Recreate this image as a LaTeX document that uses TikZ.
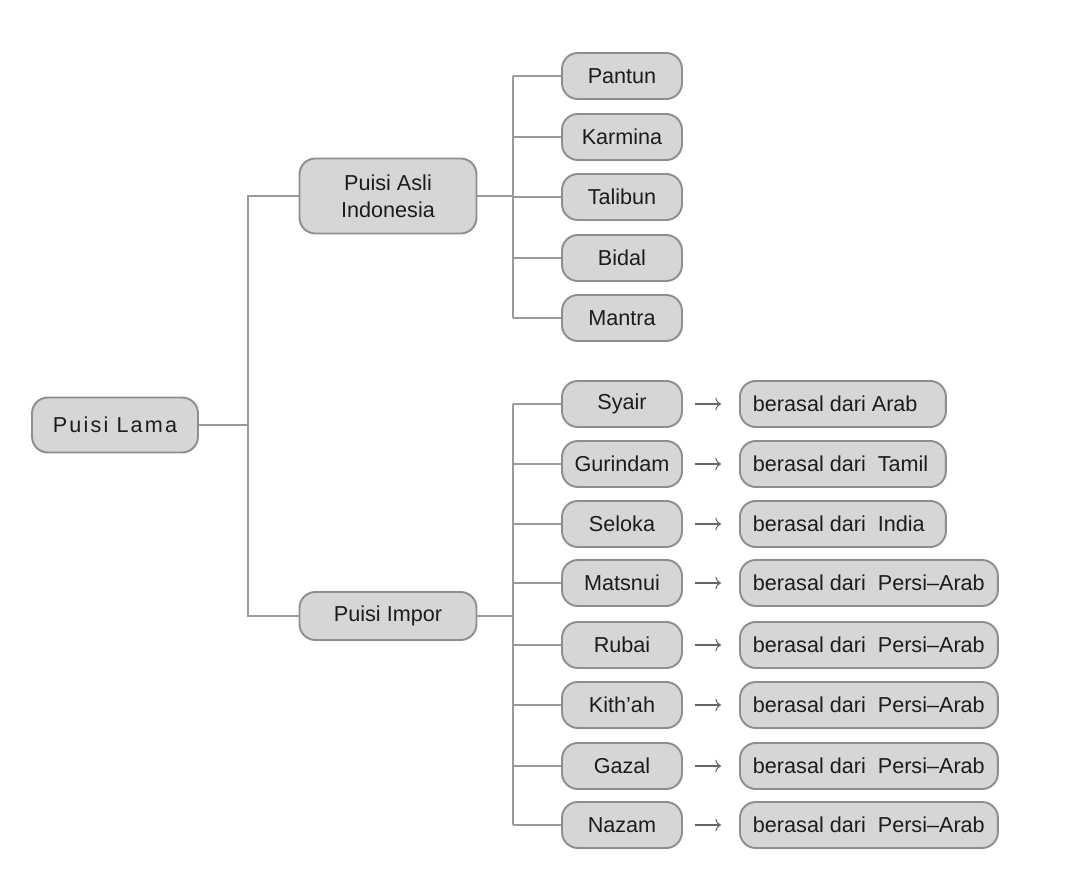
\documentclass[tikz,border=0pt]{standalone}
\usepackage{fontspec}
\setmainfont{Liberation Sans}
\usetikzlibrary{positioning,arrows.meta}
\definecolor{boxfill}{HTML}{D5D6D8}
\definecolor{boxline}{HTML}{8E8E8E}
\definecolor{linkgray}{HTML}{9A9A9A}
\definecolor{ink}{HTML}{1C1C1C}
\newcommand{\asal}[2]{\makebox[#1][l]{#2}}

\begin{document}
\begin{tikzpicture}[x=0.02cm,y=-0.02cm,
        box/.style={draw=boxline, fill=boxfill, line width=1.1pt, rounded corners=9pt,
            text=ink, font=\fontsize{12.3}{15.3}\selectfont, inner sep=0pt},
        kind/.style={box, minimum width=2.4cm, minimum height=0.92cm},
        origin/.style={box, anchor=west, minimum height=0.92cm, inner xsep=0.26cm},
        link/.style={draw=linkgray, line width=1.1pt},
        toarrow/.style={-{To[length=3.2pt,width=7pt]}, draw=black!60, line width=0.6pt,
            shorten <=0.24cm, shorten >=0.36cm}]
        \useasboundingbox (0,0) rectangle (1080,882);
        % levels
        \node[box, minimum width=3.32cm, minimum height=1.1cm] (lama) at (115,425) {\addfontfeature{LetterSpace=10}Puisi Lama};
        \node[box, minimum width=3.54cm, minimum height=1.5cm, align=center] (asli) at (388,196) {Puisi Asli\\Indonesia};
        \node[box, minimum width=3.54cm, minimum height=0.96cm] (impor) at (388,616) {Puisi Impor};
        \coordinate (trunk) at (248,0);
        \coordinate (bus) at (513,0);
        % puisi asli
        \node[kind] (pantun) at (622,76) {Pantun};
        \node[kind] (karmina) at (622,137) {Karmina};
        \node[kind] (talibun) at (622,197) {Talibun};
        \node[kind] (bidal) at (622,258) {Bidal};
        \node[kind] (mantra) at (622,318) {Mantra};
        % puisi impor
        \node[kind] (syair) at (622,404) {Syair};
        \node[kind] (gurindam) at (622,464) {Gurindam};
        \node[kind] (seloka) at (622,524) {Seloka};
        \node[kind] (matsnui) at (622,583) {Matsnui};
        \node[kind] (rubai) at (622,645) {Rubai};
        \node[kind] (kithah) at (622,705) {Kith'ah};
        \node[kind] (gazal) at (622,766) {Gazal};
        \node[kind] (nazam) at (622,825) {Nazam};
        % asal
        \node[origin] (arab) at (739,404) {\asal{3.6cm}{berasal dari Arab}};
        \node[origin] (tamil) at (739,464) {\asal{3.6cm}{berasal dari\ \ Tamil}};
        \node[origin] (india) at (739,524) {\asal{3.6cm}{berasal dari\ \ India}};
        \node[origin] (persi1) at (739,583) {\asal{4.64cm}{berasal dari\ \ Persi–Arab}};
        \node[origin] (persi2) at (739,645) {\asal{4.64cm}{berasal dari\ \ Persi–Arab}};
        \node[origin] (persi3) at (739,705) {\asal{4.64cm}{berasal dari\ \ Persi–Arab}};
        \node[origin] (persi4) at (739,766) {\asal{4.64cm}{berasal dari\ \ Persi–Arab}};
        \node[origin] (persi5) at (739,825) {\asal{4.64cm}{berasal dari\ \ Persi–Arab}};
        % tree lines
        \draw[link] (lama.east) -- (lama.east -| trunk) |- (asli.west);
        \draw[link] (lama.east -| trunk) |- (impor.west);
        \draw[link] (asli.east) -- (asli.east -| bus);
        \draw[link] (pantun.west -| bus) -- (mantra.west -| bus);
        \foreach \k in {pantun,karmina,talibun,bidal,mantra}
            \draw[link] (\k.west -| bus) -- (\k.west);
        \draw[link] (impor.east) -- (impor.east -| bus);
        \draw[link] (syair.west -| bus) -- (nazam.west -| bus);
        \foreach \k in {syair,gurindam,seloka,matsnui,rubai,kithah,gazal,nazam}
            \draw[link] (\k.west -| bus) -- (\k.west);
        % arrows
        \draw[toarrow] (syair) -- (arab);
        \draw[toarrow] (gurindam) -- (tamil);
        \draw[toarrow] (seloka) -- (india);
        \draw[toarrow] (matsnui) -- (persi1);
        \draw[toarrow] (rubai) -- (persi2);
        \draw[toarrow] (kithah) -- (persi3);
        \draw[toarrow] (gazal) -- (persi4);
        \draw[toarrow] (nazam) -- (persi5);
\end{tikzpicture}
\end{document}
